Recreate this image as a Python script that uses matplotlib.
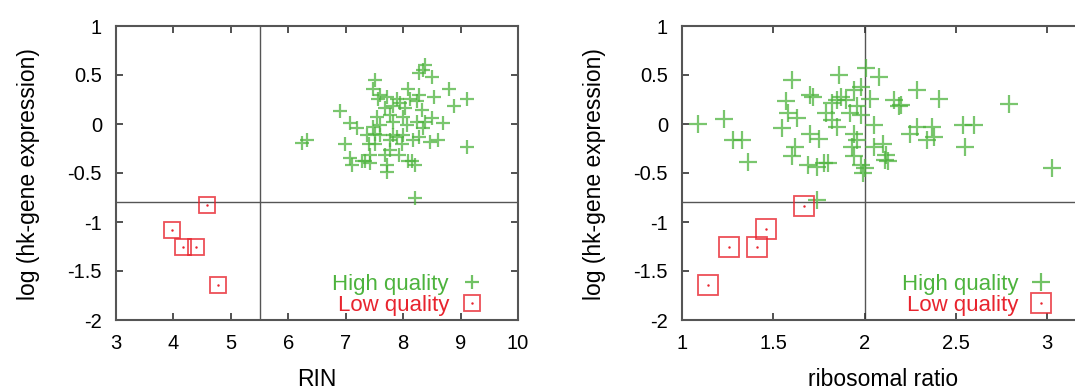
import matplotlib
matplotlib.use("Agg")
import matplotlib.pyplot as plt
from matplotlib.lines import Line2D

plt.rcParams['font.family'] = ['Liberation Sans', 'DejaVu Sans']

# RIN panel
rin_hq = [6.24, 6.32, 6.90, 7.51, 7.48, 7.08, 7.19, 6.99, 7.08, 7.11, 7.34, 7.43,
          7.40, 7.51, 7.51, 7.48, 7.60, 7.72, 7.69, 7.72, 7.57, 7.72, 7.69, 7.77,
          7.83, 7.89, 7.95, 8.03, 8.09, 8.12, 7.83, 7.77, 7.89, 8.00, 7.98, 8.06,
          7.92, 8.09, 8.15, 8.21, 8.18, 8.27, 8.24, 8.24, 8.27, 8.33, 8.38, 8.27,
          8.35, 8.38, 8.50, 8.53, 8.50, 8.47, 8.61, 8.70, 8.79, 8.88, 9.11, 9.11,
          8.21, 7.28, 7.43, 7.54, 7.60, 7.77, 8.00, 8.35, 7.37, 7.60, 7.83]
hk_hq_l = [-0.19, -0.16, 0.13, 0.45, 0.36, 0.01, -0.04, -0.20, -0.35, -0.42, -0.38, -0.40,
           -0.20, -0.20, -0.10, -0.03, -0.01, -0.42, -0.32, -0.49, 0.26, 0.28, 0.16, 0.09,
           0.02, 0.26, 0.21, 0.16, 0.36, 0.26, -0.11, -0.16, -0.13, -0.11, -0.20, -0.01,
           -0.32, -0.38, -0.38, -0.42, -0.16, -0.13, 0.02, 0.23, 0.30, 0.14, 0.02, 0.52,
           0.55, 0.60, 0.48, 0.28, 0.06, -0.18, -0.16, 0.01, 0.36, 0.18, 0.26, -0.23,
           -0.76, -0.38, -0.32, 0.07, -0.11, -0.27, 0.07, -0.04, -0.11, 0.30, 0.18]
rin_lq = [4.59, 3.97, 4.17, 4.39, 4.78]
hk_lq_l = [-0.83, -1.08, -1.25, -1.25, -1.64]

# ribosomal ratio panel
ratio_hq = [1.09, 1.23, 1.28, 1.33, 1.36, 1.60, 1.57, 1.58, 1.55, 1.63, 1.62, 1.60,
            1.70, 1.75, 1.69, 1.74, 1.78, 1.80, 1.70, 1.72, 1.86, 1.82, 1.85, 1.79,
            1.82, 1.85, 1.87, 1.90, 1.94, 1.96, 1.92, 1.98, 1.94, 1.96, 1.93, 1.94,
            1.98, 2.00, 1.99, 2.01, 1.98, 2.03, 2.05, 2.08, 2.05, 2.10, 2.12, 2.11,
            2.13, 2.16, 2.19, 2.20, 2.29, 2.25, 2.29, 2.34, 2.37, 2.38, 2.41, 2.54,
            2.60, 2.55, 2.79, 3.03, 1.74]
hk_hq_r = [0.00, 0.05, -0.16, -0.16, -0.39, 0.45, 0.23, 0.11, -0.04, 0.06, -0.23, -0.33,
           -0.10, -0.15, -0.42, -0.44, -0.40, -0.40, 0.30, 0.28, 0.50, 0.21, 0.24, 0.11,
           0.04, -0.03, 0.28, 0.24, 0.35, 0.18, 0.11, 0.09, -0.10, -0.16, -0.23, -0.33,
           -0.42, -0.45, -0.50, 0.57, 0.38, 0.26, -0.01, 0.48, -0.23, -0.20, -0.32, -0.37,
           -0.38, 0.24, 0.18, 0.19, 0.35, -0.10, -0.03, -0.16, -0.03, -0.13, 0.26, -0.01,
           -0.01, -0.23, 0.20, -0.45, -0.78]
ratio_lq = [1.67, 1.46, 1.26, 1.41, 1.14]
hk_lq_r = [-0.84, -1.07, -1.25, -1.25, -1.64]

green = '#4db33d'
red = '#e8242e'
W, H = 1075, 389

fig = plt.figure(figsize=(W / 100, H / 100), dpi=100)
ax1 = fig.add_axes([116 / W, 1 - 320 / H, 402 / W, 294 / H])
ax2 = fig.add_axes([682 / W, 1 - 320 / H, 401.5 / W, 294 / H])

panels = [
    (ax1, rin_hq, hk_hq_l, rin_lq, hk_lq_l, (3, 10), [3, 4, 5, 6, 7, 8, 9, 10], ['3', '4', '5', '6', '7', '8', '9', '10'], 5.5, 'RIN', 9.5, 11, 0.925),
    (ax2, ratio_hq, hk_hq_r, ratio_lq, hk_lq_r, (1, 3.2), [1, 1.5, 2, 2.5, 3], ['1', '1.5', '2', '2.5', '3'], 2.0, 'ribosomal ratio', 13, 14.5, 0.934),
]

for ax, xh, yh, xl, yl, xlim, xt, xtl, vx, xlabel, psize, ssize, lx in panels:
    ax.axvline(vx, color='#555555', lw=1.0, zorder=1)
    ax.axhline(-0.8, color='#555555', lw=1.0, zorder=1)
    ax.plot(xh, yh, ls='none', marker='+', ms=psize, mew=1.6, color=green, alpha=0.75, zorder=3)
    ax.plot(xl, yl, ls='none', marker='s', ms=ssize, mew=1.3, mfc='none', mec=red, alpha=0.8, zorder=3)
    ax.plot(xl, yl, ls='none', marker='.', ms=1.5, color=red, zorder=3)

    ax.set_xlim(*xlim)
    ax.set_ylim(-2, 1)
    ax.set_xticks(xt)
    ax.set_xticklabels(xtl)
    ax.set_yticks([-2, -1.5, -1, -0.5, 0, 0.5, 1])
    ax.set_yticklabels(['-2', '-1.5', '-1', '-0.5', '0', '0.5', '1'])
    ax.tick_params(direction='in', length=5, width=1.2, color='#333333', top=True, right=True,
                   labelsize=14.5, pad=10)
    for sp in ax.spines.values():
        sp.set_color('#555555')
        sp.set_linewidth(1.5)
    ax.set_xlabel(xlabel, fontsize=16.5)
    ax.xaxis.set_label_coords(0.5, -0.163)
    ax.set_ylabel('log (hk-gene expression)', fontsize=16.5)
    ax.yaxis.set_label_coords(-0.19, 0.495)

    h_hq = Line2D([], [], ls='none', marker='+', ms=psize, mew=1.6, color=green, alpha=0.8)
    h_sq = Line2D([], [], ls='none', marker='s', ms=ssize, mew=1.3, mfc='none', mec=red, alpha=0.8)
    h_dot = Line2D([], [], ls='none', marker='.', ms=1.5, color=red)
    leg = ax.legend([h_hq, (h_sq, h_dot)], ['High quality', 'Low quality'],
                    loc='lower right', bbox_to_anchor=(lx, 0.0), frameon=False,
                    markerfirst=False, fontsize=16, handlelength=1.0, handletextpad=0.55,
                    labelspacing=0.0, borderpad=0.2, borderaxespad=0.0)
    leg.get_texts()[0].set_color(green)
    leg.get_texts()[1].set_color(red)

fig.savefig('out.png', dpi=100)
